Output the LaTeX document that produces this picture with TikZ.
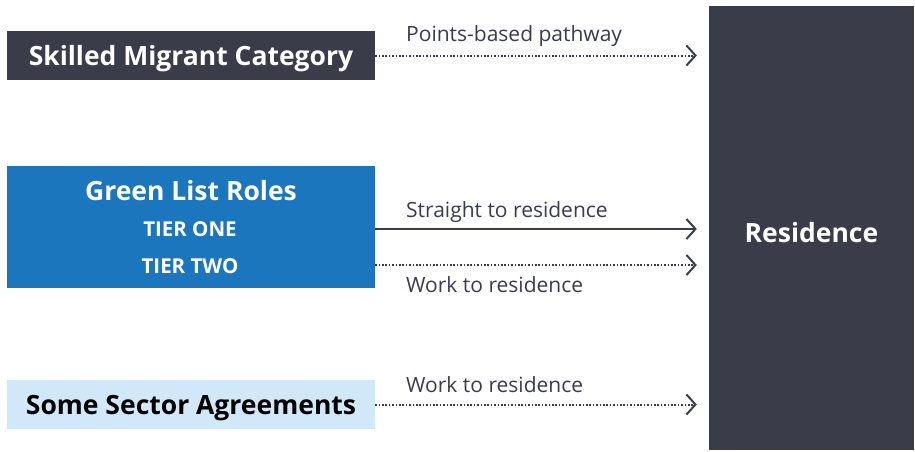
\documentclass[tikz,border=0pt]{standalone}
\usepackage{fontspec}
\setmainfont{Open Sans}
\usetikzlibrary{positioning,arrows.meta}
\definecolor{navy}{HTML}{3A3C4A}
\definecolor{blue}{HTML}{1B76BD}
\definecolor{paleblue}{HTML}{D0E8F8}

\begin{document}
\begin{tikzpicture}[
    x=1pt, y=-1pt,
    box/.style ={
        rectangle,
        inner sep=0pt,
        minimum width=368pt,
        minimum height=49pt,
        text height=19pt,
        text depth=0pt,
        font=\bfseries\fontsize{26.5}{30}\selectfont,
    },
    tier/.style ={
        text=white,
        text height=14.6pt,
        text depth=0pt,
        font=\bfseries\fontsize{20.5}{24}\selectfont,
    },
    lbl/.style ={
        anchor=base west,
        text=navy,
        inner sep=0pt,
        font=\fontsize{21}{25}\selectfont,
    },
    link/.style ={
        draw=navy,
        line width=2pt,
        shorten >=12pt,
        -{Straight Barb[length=9pt,width=20pt,line width=2pt]},
    },
    dots/.style ={
        link,
        dash pattern=on 1.6pt off 1.8pt,
    }
    ]
    \useasboundingbox (0,0) rectangle (915,451);
    % residence column
    \node[box, fill=navy, text=white, minimum width=205pt, minimum height=444pt,
        text height=28pt] (res) at (811.5,228) {Residence};
    % left boxes
    \node[box, fill=navy, text=white] (skilled) at (191,55.5) {Skilled Migrant Category};
    \node[box, fill=blue, minimum height=122pt] (green) at (191,227) {};
    \node[box, text=white] (roles) at (191,191) {Green List Roles};
    \node[tier] (one) at (190,229) {TIER ONE};
    \node[tier] (two) at (190,266) {TIER TWO};
    \node[box, fill=paleblue, text=black] (sector) at (191,404.5) {Some Sector Agreements};
    % pathways
    \draw[dots] (skilled.east) -- (skilled.east -| res.west);
    \draw[link] ([yshift=-2pt]green.east) -- ([yshift=-2pt]green.east -| res.west);
    \draw[dots] ([yshift=-38pt]green.east) -- ([yshift=-38pt]green.east -| res.west);
    \draw[dots] (sector.east) -- (sector.east -| res.west);
    \node[lbl] (points) at (406,41) {Points-based pathway};
    \node[lbl] (straight) at (406,217) {Straight to residence};
    \node[lbl] (work) at (406,292) {Work to residence};
    \node[lbl] (work2) at (406,392) {Work to residence};
\end{tikzpicture}
\end{document}
